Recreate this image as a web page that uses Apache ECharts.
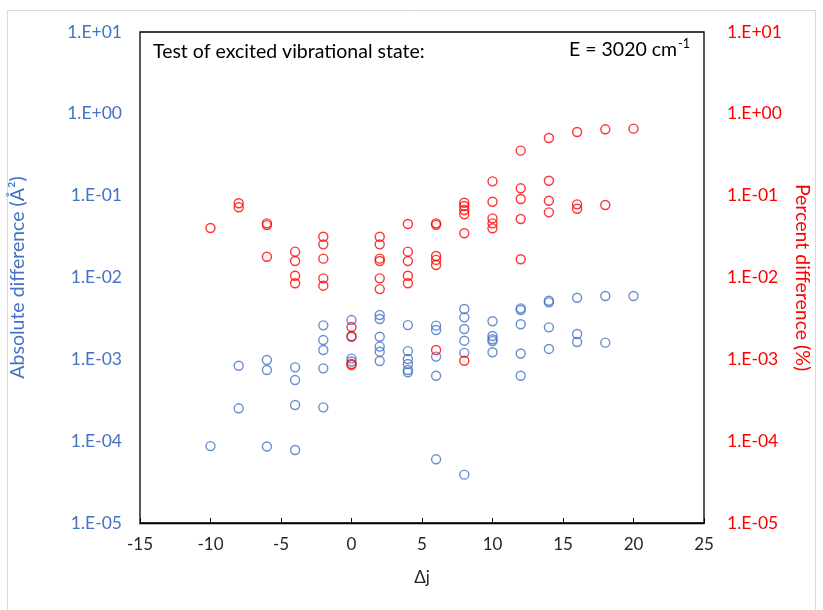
<!DOCTYPE html>
<html>
<head>
<meta charset="utf-8">
<script src="https://cdn.jsdelivr.net/npm/echarts@6/dist/echarts.min.js"></script>
<style>
  html, body { margin: 0; padding: 0; background: #ffffff; }
  #chart { width: 823px; height: 610px; }
</style>
</head>
<body>
<div id="chart"></div>
<script>
// Δj values and absolute differences (Å²)
const absDj = [
  -10,
  -8, -8,
  -6, -6, -6,
  -4, -4, -4, -4,
  -2, -2, -2, -2, -2,
  0, 0, 0, 0,
  2, 2, 2, 2, 2, 2,
  4, 4, 4, 4, 4, 4,
  6, 6, 6, 6, 6,
  8, 8, 8, 8, 8, 8,
  10, 10, 10, 10, 10,
  12, 12, 12, 12, 12,
  14, 14, 14, 14,
  16, 16, 16,
  18, 18,
  20
];
const absVal = [
  8.7e-5,
  0.000835, 0.000252,
  0.000982, 0.00074, 8.6e-5,
  0.000798, 0.000558, 0.000277, 7.8e-5,
  0.0026, 0.00172, 0.0013, 0.000776, 0.000259,
  0.00302, 0.00193, 0.00102, 0.00094,
  0.00348, 0.00311, 0.00189, 0.00143, 0.00124, 0.000953,
  0.00262, 0.00126, 0.00101, 0.000877, 0.00074, 0.000693,
  0.00258, 0.00228, 0.00108, 0.00063, 6.0e-5,
  0.00412, 0.00326, 0.00235, 0.00169, 0.0012, 3.9e-5,
  0.00292, 0.00193, 0.00176, 0.00167, 0.00122,
  0.0042, 0.0040, 0.00268, 0.00118, 0.00063,
  0.0052, 0.00497, 0.00246, 0.00134,
  0.00566, 0.00204, 0.00163,
  0.00594, 0.0016,
  0.00594
];

// Δj values and percent differences (%)
const pctDj = [
  -10,
  -8, -8,
  -6, -6, -6,
  -4, -4, -4, -4,
  -2, -2, -2, -2, -2,
  0, 0, 0, 0,
  2, 2, 2, 2, 2, 2,
  4, 4, 4, 4, 4,
  6, 6, 6, 6, 6, 6,
  8, 8, 8, 8, 8, 8,
  10, 10, 10, 10, 10,
  12, 12, 12, 12, 12,
  14, 14, 14, 14,
  16, 16, 16,
  18, 18,
  20
];
const pctVal = [
  0.0403,
  0.0807, 0.0721,
  0.0459, 0.0437, 0.01795,
  0.0207, 0.0159, 0.0105, 0.0085,
  0.0315, 0.0254, 0.0170, 0.00977, 0.00794,
  0.00248, 0.00189, 0.00088, 0.000853,
  0.0315, 0.0254, 0.0170, 0.0159, 0.00977, 0.00722,
  0.0451, 0.0207, 0.0159, 0.0105, 0.0085,
  0.0459, 0.044, 0.0183, 0.0164, 0.0142, 0.0013,
  0.082, 0.0748, 0.0669, 0.0592, 0.0347, 0.00096,
  0.1496, 0.0843, 0.0528, 0.0459, 0.0399,
  0.355, 0.123, 0.091, 0.0519, 0.0167,
  0.507, 0.152, 0.0867, 0.0625,
  0.600, 0.0783, 0.0693,
  0.647, 0.0769,
  0.659
];

const xTicks = { min: -15, max: 25, step: 5 };
const yRange = { min: 1e-5, max: 10 };

const BLUE = '#4472C4';
const RED = '#FF0000';
const FONT = 'Lato';

function sciLabel(v) {
  const e = Math.round(Math.log10(v));
  const s = Math.abs(e) < 10 ? '0' + Math.abs(e) : String(Math.abs(e));
  return '1.E' + (e >= 0 ? '+' : '-') + s;
}

const chart = echarts.init(document.getElementById('chart'), null, { renderer: 'canvas' });

const absData = absDj.map((x, i) => [x, absVal[i]]);
const pctData = pctDj.map((x, i) => [x, pctVal[i]]);

chart.setOption({
  backgroundColor: '#ffffff',
  animation: false,
  grid: {
    left: 138, right: 119, top: 32, bottom: 87,
    show: true, borderColor: '#000000', borderWidth: 1.3, backgroundColor: 'transparent'
  },
  graphic: [
    {
      type: 'rect', silent: true, z: -10,
      shape: { x: 7.5, y: 10.5, width: 808, height: 640 },
      style: { fill: 'none', stroke: '#d9d9d9', lineWidth: 1 }
    },
    {
      type: 'text', left: 153, top: 42,
      style: { text: 'Test of excited vibrational state:', font: '19.5px ' + FONT, fill: '#000000' }
    },
    {
      type: 'text', right: 133, top: 37,
      style: {
        text: '{n|E = 3020 cm}{s|-1}',
        rich: {
          n: { fontFamily: FONT, fontSize: 19.5, fill: '#000000', padding: [6, 0, 0, 0] },
          s: { fontFamily: FONT, fontSize: 12.5, fill: '#000000', padding: [0, 0, 7, 1] }
        }
      }
    }
  ],
  xAxis: {
    type: 'value',
    min: xTicks.min, max: xTicks.max, interval: xTicks.step,
    name: 'Δj', nameLocation: 'middle', nameGap: 46,
    nameTextStyle: { fontFamily: FONT, fontSize: 17, color: '#262626' },
    axisLine: { show: true, onZero: false, lineStyle: { color: '#000000', width: 1.3 } },
    axisTick: { show: true, inside: true, length: 5, lineStyle: { color: '#000000' } },
    axisLabel: { fontFamily: FONT, fontSize: 17, color: '#262626', margin: 13 },
    splitLine: { show: false }
  },
  yAxis: [
    {
      type: 'log', logBase: 10, min: yRange.min, max: yRange.max, position: 'left',
      name: 'Absolute difference (Å²)', nameLocation: 'middle', nameGap: 112, nameRotate: 90,
      nameTextStyle: { fontFamily: FONT, fontSize: 19.5, color: BLUE },
      axisLine: { show: false },
      axisTick: { show: false },
      axisLabel: { fontFamily: FONT, fontSize: 17.5, color: BLUE, margin: 18, formatter: sciLabel },
      splitLine: { show: false }
    },
    {
      type: 'log', logBase: 10, min: yRange.min, max: yRange.max, position: 'right',
      name: 'Percent difference (%)', nameLocation: 'middle', nameGap: 86, nameRotate: -90,
      nameTextStyle: { fontFamily: FONT, fontSize: 19.5, color: RED },
      axisLine: { show: false },
      axisTick: { show: false },
      axisLabel: { fontFamily: FONT, fontSize: 17.5, color: RED, margin: 23, formatter: sciLabel },
      splitLine: { show: false }
    }
  ],
  series: [
    {
      name: 'Absolute difference', type: 'scatter', yAxisIndex: 0,
      data: absData, symbol: 'circle', symbolSize: 9,
      itemStyle: { color: 'rgba(0,0,0,0)', borderColor: BLUE, borderWidth: 1.4 }
    },
    {
      name: 'Percent difference', type: 'scatter', yAxisIndex: 1,
      data: pctData, symbol: 'circle', symbolSize: 9,
      itemStyle: { color: 'rgba(0,0,0,0)', borderColor: RED, borderWidth: 1.4 }
    }
  ]
});
</script>
</body>
</html>
